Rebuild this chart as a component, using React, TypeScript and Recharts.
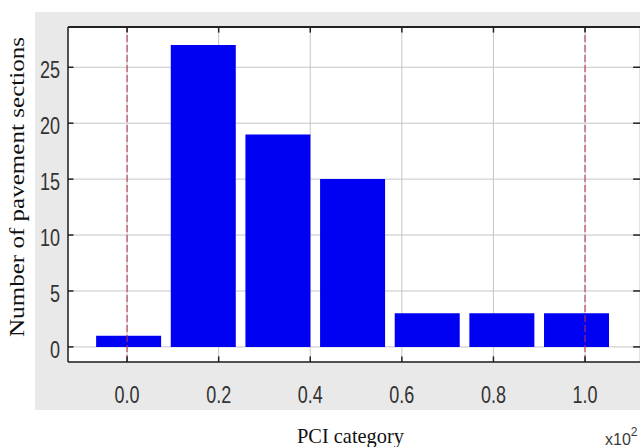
import { BarChart, Bar, XAxis, YAxis, CartesianGrid, ReferenceLine } from "recharts";

// histogram bin centres (PCI / 100) and counts
const binCenters = [0.003, 0.166, 0.329, 0.492, 0.655, 0.818, 0.981];
const counts = [1, 27, 19, 15, 3, 3, 3];
const xTicks = [0, 0.2, 0.4, 0.6, 0.8, 1.0];
const yTicks = [0, 5, 10, 15, 20, 25];
const limitLines = [0, 1.0];

const data = binCenters.map((x, i) => ({ x, count: counts[i] }));

const tickFont = "'Liberation Sans', Arial, sans-serif";
const serif = "'Liberation Serif', 'Times New Roman', serif";
const axisStroke = { stroke: "#222", strokeWidth: 1.5 };

const XTick = ({ x, y, payload }: any) => (
  <g transform={`translate(${x},${y}) scale(1,1.3)`}>
    <text x={0} y={14} textAnchor="middle" fontSize={18} fontFamily={tickFont} fill="#333">
      {Number(payload.value).toFixed(1)}
    </text>
  </g>
);

const YTick = ({ x, y, payload }: any) => (
  <g transform={`translate(${x},${y + 3}) scale(1,1.3)`}>
    <text x={0} y={6} textAnchor="end" fontSize={18} fontFamily={tickFont} fill="#333">
      {payload.value}
    </text>
  </g>
);

export default function App() {
  return (
    <div style={{ position: "fixed", left: 0, top: 0, width: 640, height: 447, background: "#fff", overflow: "hidden" }}>
      <div style={{ position: "absolute", left: 35, top: 12, width: 605, height: 398, background: "#e9e9e9" }} />
      <div style={{ position: "absolute", left: 0, top: 0 }}>
        <BarChart width={641} height={447} data={data} margin={{ top: 22, right: 0, bottom: 35, left: 28 }}>
          <CartesianGrid stroke="#c6c6c6" strokeWidth={1} fill="#fff" />
          <XAxis
            dataKey="x"
            type="number"
            domain={[-0.129, 1.12]}
            ticks={xTicks}
            allowDataOverflow
            height={50}
            tickSize={5}
            tickMargin={18}
            tick={<XTick />}
            axisLine={axisStroke}
            tickLine={false}
          />
          <XAxis
            xAxisId="top"
            orientation="top"
            type="number"
            domain={[-0.129, 1.12]}
            ticks={xTicks}
            allowDataOverflow
            height={5}
            tick={false}
            axisLine={axisStroke}
            tickLine={false}
          />
          <YAxis
            type="number"
            domain={[-1.35, 28.6]}
            ticks={yTicks}
            allowDataOverflow
            width={40}
            tickSize={5}
            tickMargin={3}
            tick={<YTick />}
            axisLine={axisStroke}
            tickLine={false}
          />
          <YAxis
            yAxisId="right"
            orientation="right"
            type="number"
            domain={[-1.35, 28.6]}
            ticks={yTicks}
            allowDataOverflow
            width={1}
            tick={false}
            axisLine={false}
            tickLine={false}
          />
          <Bar dataKey="count" fill="#0000f2" barSize={65} isAnimationActive={false} />
          {limitLines.map((v) => (
            <ReferenceLine key={v} x={v} stroke="#b8364a" strokeOpacity={0.8} strokeWidth={1.3} strokeDasharray="7 3" />
          ))}
          {/* inward tick marks on the frame */}
          {xTicks.map((t) => (
            <ReferenceLine key={`xb${t}`} segment={[{ x: t, y: -1.35 }, { x: t, y: -0.85 }]} stroke="#222" strokeWidth={1.5} />
          ))}
          {xTicks.map((t) => (
            <ReferenceLine key={`xt${t}`} segment={[{ x: t, y: 28.6 }, { x: t, y: 28.1 }]} stroke="#222" strokeWidth={1.5} />
          ))}
          {yTicks.map((t) => (
            <ReferenceLine key={`yl${t}`} segment={[{ x: -0.129, y: t }, { x: -0.117, y: t }]} stroke="#222" strokeWidth={1.5} />
          ))}
          {yTicks.map((t) => (
            <ReferenceLine key={`yr${t}`} segment={[{ x: 1.105, y: t }, { x: 1.12, y: t }]} stroke="#222" strokeWidth={1.5} />
          ))}
        </BarChart>
      </div>
      {/* top frame edge */}
      <div style={{ position: "absolute", left: 68, top: 26, width: 572, height: 2, background: "#222" }} />
      <svg width={640} height={447} style={{ position: "absolute", left: 0, top: 0, pointerEvents: "none" }}>
        <text
          transform="translate(24,187) rotate(-90)"
          textAnchor="middle"
          fontFamily={serif}
          fontSize={20}
          textLength={300}
          lengthAdjust="spacingAndGlyphs"
          fill="#111"
        >
          Number of pavement sections
        </text>
        <text x={297} y={443} fontFamily={serif} fontSize={21} textLength={107} lengthAdjust="spacingAndGlyphs" fill="#111">
          PCI category
        </text>
        <text x={605} y={445} fontFamily={tickFont} fontSize={16} fill="#3a3a3a">
          x10
          <tspan dy={-9} fontSize={12}>2</tspan>
        </text>
      </svg>
    </div>
  );
}
